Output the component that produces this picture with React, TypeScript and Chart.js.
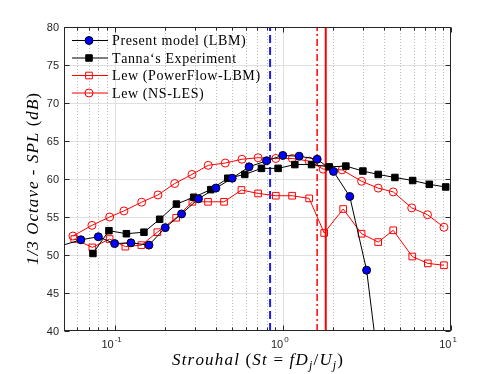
import React, { useEffect, useRef } from 'react';
import { Chart, registerables } from 'chart.js';

Chart.register(...registerables);

// ---------- axis ranges & ticks ----------
const X_MIN = 0.05;
const X_MAX = 10;
const Y_MIN = 40;
const Y_MAX = 80;
const Y_TICKS = [40, 45, 50, 55, 60, 65, 70, 75, 80];
const X_MAJOR_TICKS = [0.1, 1, 10];
const X_MAJOR_EXP = ['-1', '0', '1'];
const X_MINOR_TICKS = [0.06, 0.07, 0.08, 0.09, 0.2, 0.3, 0.4, 0.5, 0.6, 0.7, 0.8, 0.9, 2, 3, 4, 5, 6, 7, 8, 9];

// ---------- series ----------
const SERIES_NAMES = ['Present model (LBM)', 'Tanna‘s Experiment', 'Lew (PowerFlow-LBM)', 'Lew (NS-LES)'];

const lbmSt = [0.04, 0.063, 0.08, 0.1, 0.125, 0.16, 0.2, 0.25, 0.315, 0.4, 0.5, 0.63, 0.8, 1.0, 1.25, 1.6, 2.0, 2.5, 3.15, 4.0];
const lbmSpl = [50.7, 52.0, 52.4, 51.5, 51.6, 51.3, 53.6, 55.4, 57.4, 58.8, 60.1, 61.6, 62.4, 63.1, 63.0, 62.6, 61.0, 57.7, 48.0, 29.5];

const tannaSt = [0.0743, 0.0925, 0.1175, 0.1494, 0.1853, 0.233, 0.2953, 0.3727, 0.4708, 0.594, 0.7466, 0.9376, 1.179, 1.482, 1.886, 2.371, 2.993, 3.69, 4.64, 5.916, 7.43, 9.3];
const tannaSpl = [50.2, 53.2, 52.8, 53.0, 54.7, 56.7, 57.6, 58.6, 60.1, 60.6, 61.4, 61.4, 61.9, 61.9, 61.6, 61.7, 61.05, 60.6, 60.2, 59.8, 59.3, 58.95];

const pfSt = [0.0576, 0.0737, 0.0934, 0.1158, 0.1442, 0.1795, 0.2323, 0.2901, 0.3592, 0.4473, 0.5677, 0.7129, 0.9084, 1.136, 1.434, 1.762, 2.285, 2.941, 3.69, 4.535, 5.885, 7.28, 9.08];
const pfSpl = [52.1, 51.0, 52.1, 51.1, 51.3, 53.0, 54.9, 57.0, 57.0, 57.0, 58.55, 58.1, 57.8, 57.8, 57.45, 52.9, 56.05, 52.8, 51.7, 53.25, 49.8, 48.9, 48.65];

const nsSt = [0.0565, 0.0733, 0.0934, 0.1136, 0.1448, 0.181, 0.2276, 0.2884, 0.3601, 0.4547, 0.5716, 0.7129, 0.9084, 1.139, 1.434, 1.738, 2.251, 2.941, 3.69, 4.535, 5.84, 7.25, 9.08];
const nsSpl = [52.5, 53.9, 55.0, 55.8, 56.95, 57.9, 59.4, 60.6, 61.8, 62.1, 62.6, 62.8, 62.7, 62.7, 62.35, 61.3, 61.2, 59.7, 58.8, 58.3, 56.2, 55.3, 53.65];

// vertical reference lines (St)
const VLINE_ST = [0.84, 1.6, 1.8];

// ---------- helpers ----------
const pts = (xs: number[], ys: number[]) => xs.map((x, i) => ({ x, y: ys[i] }));

type Seg = { t: string; it?: boolean; sub?: boolean };
const SERIF = '"Liberation Serif", "Times New Roman", serif';
const SANS = '"Liberation Sans", Arial, sans-serif';

function segFont(s: Seg, size: number) {
  const sz = s.sub ? size * 0.7 : size;
  return `${s.it ? 'italic ' : ''}${sz}px ${SERIF}`;
}
function richNatural(ctx: CanvasRenderingContext2D, segs: Seg[], size: number) {
  let w = 0;
  let n = 0;
  for (const s of segs) {
    ctx.font = segFont(s, size);
    for (const ch of s.t) {
      w += ctx.measureText(ch).width;
      n++;
    }
  }
  return { w, n };
}
function drawRich(ctx: CanvasRenderingContext2D, segs: Seg[], x: number, y: number, size: number, extra: number) {
  let cx = x;
  ctx.textAlign = 'left';
  ctx.textBaseline = 'alphabetic';
  for (const s of segs) {
    ctx.font = segFont(s, size);
    const dy = s.sub ? size * 0.22 : 0;
    for (const ch of s.t) {
      ctx.fillText(ch, cx, y + dy);
      cx += ctx.measureText(ch).width + extra;
    }
  }
  return cx - x;
}
function drawRichCentered(ctx: CanvasRenderingContext2D, segs: Seg[], cx: number, y: number, size: number, target: number) {
  const { w, n } = richNatural(ctx, segs, size);
  const extra = n > 1 ? Math.max(0, (target - w) / (n - 1)) : 0;
  const total = w + extra * (n - 1);
  drawRich(ctx, segs, cx - total / 2, y, size, extra);
}

const X_TITLE: Seg[] = [
  { t: 'Strouhal', it: true },
  { t: ' (' },
  { t: 'St', it: true },
  { t: ' = ' },
  { t: 'fD', it: true },
  { t: 'j', it: true, sub: true },
  { t: '/' },
  { t: 'U', it: true },
  { t: 'j', it: true, sub: true },
  { t: ')' },
];
const Y_TITLE: Seg[] = [
  { t: '1/3 Octave - SPL ', it: true },
  { t: '(' },
  { t: 'dB', it: true },
  { t: ')' },
];

const AXIS_COLOR = '#262626';

const matlabAxes = {
  id: 'matlabAxes',
  beforeDatasetsDraw(chart: any) {
    const { ctx, chartArea: a, scales } = chart;
    const xs = scales.x;
    const ys = scales.y;
    ctx.save();
    ctx.lineWidth = 1;
    // major grid (solid)
    ctx.strokeStyle = '#e0e0e0';
    ctx.beginPath();
    for (const v of Y_TICKS) {
      if (v <= Y_MIN || v >= Y_MAX) continue;
      const y = Math.round(ys.getPixelForValue(v)) + 0.5;
      ctx.moveTo(a.left, y);
      ctx.lineTo(a.right, y);
    }
    for (const v of X_MAJOR_TICKS) {
      if (v <= X_MIN || v >= X_MAX) continue;
      const x = Math.round(xs.getPixelForValue(v)) + 0.5;
      ctx.moveTo(x, a.top);
      ctx.lineTo(x, a.bottom);
    }
    ctx.stroke();
    // minor grid (dotted)
    ctx.strokeStyle = '#bdbdbd';
    ctx.setLineDash([1, 2]);
    ctx.beginPath();
    for (const v of X_MINOR_TICKS) {
      const x = Math.round(xs.getPixelForValue(v)) + 0.5;
      ctx.moveTo(x, a.top);
      ctx.lineTo(x, a.bottom);
    }
    ctx.stroke();
    ctx.restore();
  },
  afterDraw(chart: any) {
    const { ctx, chartArea: a, scales } = chart;
    const xs = scales.x;
    const ys = scales.y;
    ctx.save();
    // box
    ctx.strokeStyle = AXIS_COLOR;
    ctx.lineWidth = 1;
    const L = Math.round(a.left) + 0.5;
    const R = Math.round(a.right) - 0.5;
    const T = Math.round(a.top) + 0.5;
    const B = Math.round(a.bottom) - 0.5;
    ctx.strokeRect(L, T, R - L, B - T);
    // ticks
    ctx.beginPath();
    for (const v of Y_TICKS) {
      const y = Math.round(ys.getPixelForValue(v)) + 0.5;
      ctx.moveTo(L, y);
      ctx.lineTo(L + 5, y);
      ctx.moveTo(R, y);
      ctx.lineTo(R - 5, y);
    }
    for (const v of X_MAJOR_TICKS) {
      const x = Math.round(xs.getPixelForValue(v)) + 0.5;
      ctx.moveTo(x, B);
      ctx.lineTo(x, B - 5);
      ctx.moveTo(x, T);
      ctx.lineTo(x, T + 5);
    }
    for (const v of X_MINOR_TICKS) {
      const x = Math.round(xs.getPixelForValue(v)) + 0.5;
      ctx.moveTo(x, B);
      ctx.lineTo(x, B - 3);
      ctx.moveTo(x, T);
      ctx.lineTo(x, T + 3);
    }
    ctx.stroke();

    // y tick labels
    ctx.fillStyle = AXIS_COLOR;
    ctx.font = `11px ${SANS}`;
    ctx.textAlign = 'right';
    ctx.textBaseline = 'middle';
    for (const v of Y_TICKS) {
      ctx.fillText(String(v), a.left - 5, ys.getPixelForValue(v) + 0.5);
    }
    // x tick labels 10^n
    ctx.textBaseline = 'alphabetic';
    ctx.textAlign = 'left';
    X_MAJOR_TICKS.forEach((v, i) => {
      const x = xs.getPixelForValue(v);
      ctx.font = `11px ${SANS}`;
      const w1 = ctx.measureText('10').width;
      ctx.font = `8px ${SANS}`;
      const w2 = ctx.measureText(X_MAJOR_EXP[i]).width;
      const start = x - 3 - (w1 + w2 + 1) / 2;
      ctx.font = `11px ${SANS}`;
      ctx.fillText('10', start, a.bottom + 17);
      ctx.font = `8px ${SANS}`;
      ctx.fillText(X_MAJOR_EXP[i], start + w1 + 1, a.bottom + 11);
    });

    // axis titles
    ctx.fillStyle = '#000';
    drawRichCentered(ctx, X_TITLE, (a.left + a.right) / 2, 365, 17, 171);
    ctx.save();
    ctx.translate(38, (a.top + a.bottom) / 2);
    ctx.rotate(-Math.PI / 2);
    drawRichCentered(ctx, Y_TITLE, 0, 0, 17, 172);
    ctx.restore();

    // legend
    const rows = [40, 57.5, 75, 92.5];
    const ds = chart.data.datasets;
    for (let i = 0; i < 4; i++) {
      const d = ds[i];
      const y = rows[i];
      ctx.strokeStyle = d.borderColor;
      ctx.lineWidth = 1;
      ctx.setLineDash([]);
      ctx.beginPath();
      ctx.moveTo(72, y + 0.5);
      ctx.lineTo(108, y + 0.5);
      ctx.stroke();
      const mx = 89;
      const r = d.pointRadius;
      ctx.beginPath();
      if (d.pointStyle === 'rect') {
        const h = r * Math.SQRT1_2;
        ctx.rect(mx - h, y + 0.5 - h, 2 * h, 2 * h);
      } else {
        ctx.arc(mx, y + 0.5, r, 0, Math.PI * 2);
      }
      if (d.pointBackgroundColor && d.pointBackgroundColor !== 'rgba(0,0,0,0)') {
        ctx.fillStyle = d.pointBackgroundColor;
        ctx.fill();
      }
      ctx.strokeStyle = d.pointBorderColor;
      ctx.lineWidth = d.pointBorderWidth;
      ctx.stroke();
      ctx.fillStyle = '#000';
      drawRich(ctx, [{ t: SERIES_NAMES[i] }], 112, y + 5, 14, 0.6);
    }
    ctx.restore();
  },
};

export default function App() {
  const ref = useRef<HTMLCanvasElement>(null);
  useEffect(() => {
    if (!ref.current) return;
    const vline = (st: number) => [
      { x: st, y: Y_MIN },
      { x: st, y: Y_MAX },
    ];
    const chart = new Chart(ref.current, {
      type: 'line',
      data: {
        datasets: [
          {
            label: SERIES_NAMES[0],
            data: pts(lbmSt, lbmSpl),
            borderColor: '#000000',
            borderWidth: 1,
            pointStyle: 'circle',
            pointRadius: 4,
            pointBackgroundColor: '#0000ff',
            pointBorderColor: '#000000',
            pointBorderWidth: 1,
          },
          {
            label: SERIES_NAMES[1],
            data: pts(tannaSt, tannaSpl),
            borderColor: '#000000',
            borderWidth: 1,
            pointStyle: 'rect',
            pointRadius: 4.6,
            pointBackgroundColor: '#000000',
            pointBorderColor: '#000000',
            pointBorderWidth: 1,
          },
          {
            label: SERIES_NAMES[2],
            data: pts(pfSt, pfSpl),
            borderColor: '#ff0000',
            borderWidth: 1,
            pointStyle: 'rect',
            pointRadius: 4.7,
            pointBackgroundColor: 'rgba(0,0,0,0)',
            pointBorderColor: '#ff0000',
            pointBorderWidth: 1,
          },
          {
            label: SERIES_NAMES[3],
            data: pts(nsSt, nsSpl),
            borderColor: '#ff0000',
            borderWidth: 1,
            pointStyle: 'circle',
            pointRadius: 4,
            pointBackgroundColor: 'rgba(0,0,0,0)',
            pointBorderColor: '#ff0000',
            pointBorderWidth: 1,
          },
          {
            label: 'vline-blue',
            data: vline(VLINE_ST[0]),
            borderColor: '#1a1aff',
            borderWidth: 2,
            borderDash: [8, 4],
            pointRadius: 0,
          },
          {
            label: 'vline-dashdot',
            data: vline(VLINE_ST[1]),
            borderColor: '#ff0000',
            borderWidth: 1.5,
            borderDash: [7, 3, 2, 3],
            pointRadius: 0,
          },
          {
            label: 'vline-solid',
            data: vline(VLINE_ST[2]),
            borderColor: '#ff0000',
            borderWidth: 2,
            pointRadius: 0,
          },
        ],
      },
      options: {
        animation: false,
        responsive: false,
        devicePixelRatio: 1,
        layout: { padding: { left: 64, top: 27, right: 47, bottom: 43 } },
        scales: {
          x: { type: 'logarithmic', min: X_MIN, max: X_MAX, display: false },
          y: { type: 'linear', min: Y_MIN, max: Y_MAX, display: false },
        },
        plugins: { legend: { display: false }, tooltip: { enabled: false } },
        events: [],
      },
      plugins: [matlabAxes],
    } as any);
    return () => chart.destroy();
  }, []);
  return (
    <div style={{ position: 'fixed', left: 0, top: 0, width: 498, height: 374, background: '#ffffff' }}>
      <canvas ref={ref} width={498} height={374} style={{ display: 'block', width: 498, height: 374 }} />
    </div>
  );
}
